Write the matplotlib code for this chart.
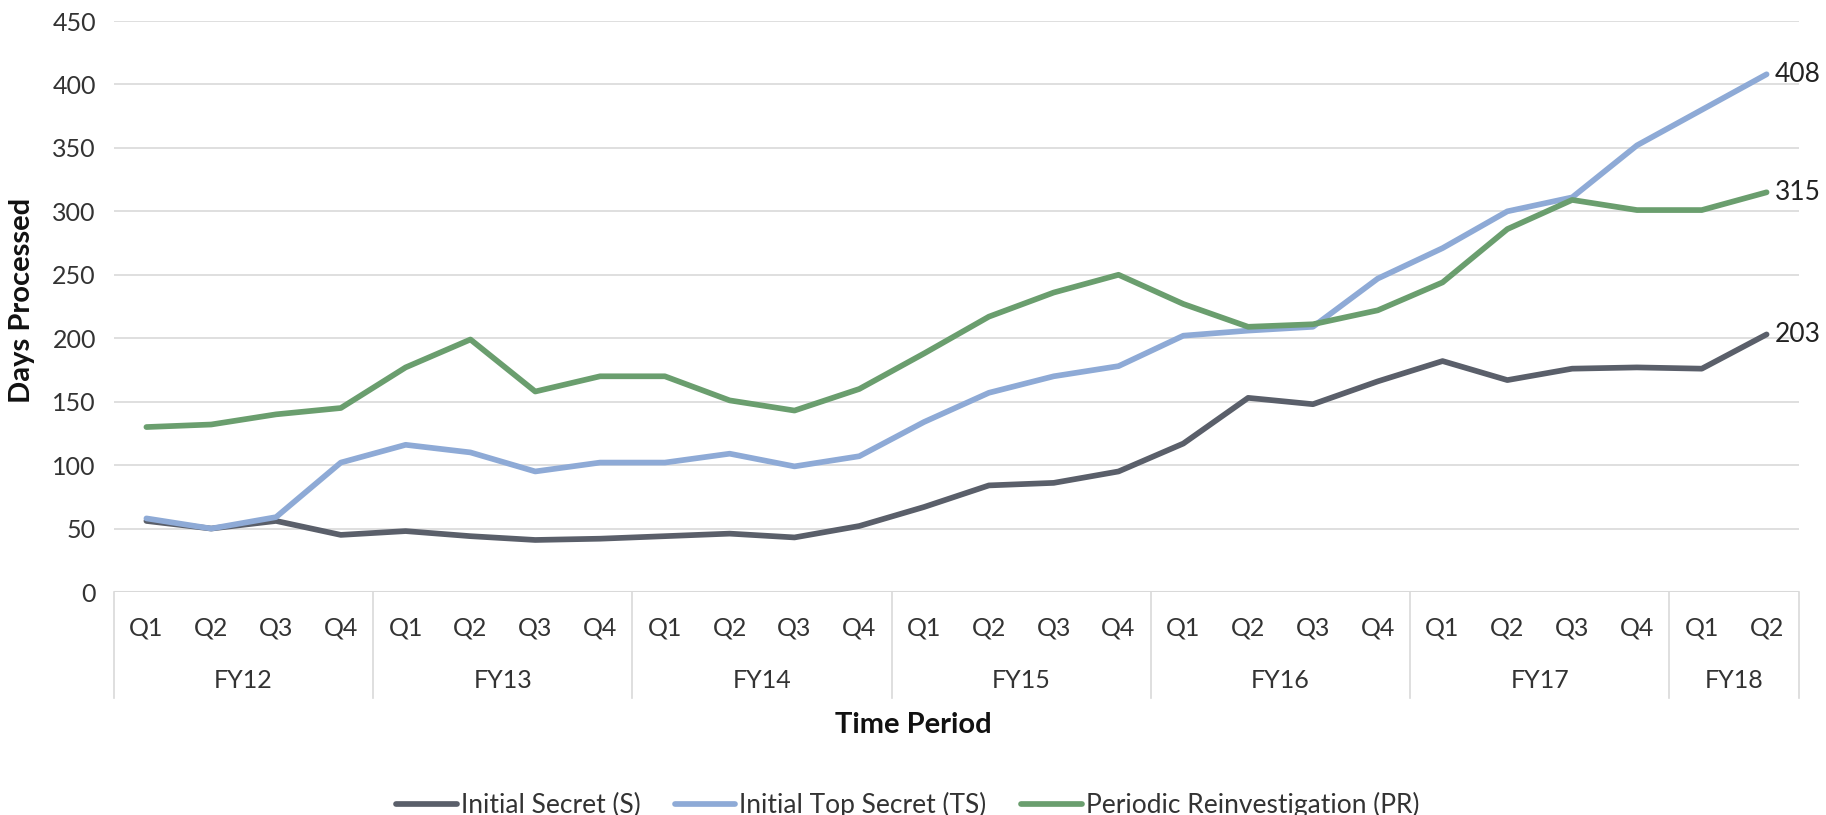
import matplotlib.pyplot as plt
import matplotlib.transforms as mtransforms

plt.rcParams['font.family'] = ['Lato', 'DejaVu Sans']

# data
years = ['FY12', 'FY13', 'FY14', 'FY15', 'FY16', 'FY17', 'FY18']
quarters_per_year = [4, 4, 4, 4, 4, 4, 2]
secret = [56, 50, 56, 45, 48, 44, 41, 42, 44, 46, 43, 52,
          67, 84, 86, 95, 117, 153, 148, 166, 182, 167, 176, 177, 176, 203]
top_secret = [58, 50, 59, 102, 116, 110, 95, 102, 102, 109, 99, 107,
              134, 157, 170, 178, 202, 206, 209, 247, 271, 300, 311, 352, 380, 408]
reinvest = [130, 132, 140, 145, 177, 199, 158, 170, 170, 151, 143, 160,
            188, 217, 236, 250, 227, 209, 211, 222, 244, 286, 309, 301, 301, 315]

quarter_labels = []
for n in quarters_per_year:
    quarter_labels += ['Q%d' % (k + 1) for k in range(n)]
x = list(range(len(quarter_labels)))

c_s = '#5a5f6a'
c_ts = '#8eaad6'
c_pr = '#6a9e6e'
grid_c = '#d9d9d9'
fs = 18
fs_title = 21

fig = plt.figure(figsize=(18.26, 8.15), dpi=100)
ax = fig.add_axes([114 / 1826, 1 - 592 / 815, (1799 - 114) / 1826, (592 - 21) / 815])

ax.plot(x, secret, color=c_s, lw=4.1, label='Initial Secret (S)', solid_capstyle='round')
ax.plot(x, top_secret, color=c_ts, lw=4.1, label='Initial Top Secret (TS)', solid_capstyle='round')
ax.plot(x, reinvest, color=c_pr, lw=4.1, label='Periodic Reinvestigation (PR)', solid_capstyle='round')

# end labels
for series in (secret, top_secret, reinvest):
    ax.annotate(str(series[-1]), (x[-1], series[-1]), xytext=(6, 0), textcoords='offset points',
                va='center', ha='left', fontsize=fs + 1, color='#222222', annotation_clip=False)

ax.set_xlim(-0.5, len(x) - 0.5)
ax.set_ylim(0, 450)
ax.set_yticks(range(0, 451, 50))
ax.tick_params(axis='y', length=0, pad=13, labelsize=fs, labelcolor='#333333')
ax.set_xticks([])
ax.grid(axis='y', color=grid_c, lw=1.2)
ax.set_axisbelow(True)
for s in ax.spines.values():
    s.set_visible(False)
ax.axhline(0, color=grid_c, lw=1.5, zorder=0.5)

# hierarchical category axis
trans = mtransforms.blended_transform_factory(ax.transData, fig.transFigure)
y_top = 1 - 592 / 815
y_bot = 1 - 698 / 815
y_q = 1 - 628 / 815
y_fy = 1 - 681 / 815
for i, q in enumerate(quarter_labels):
    fig.text(i, y_q, q, transform=trans, ha='center', va='center', fontsize=fs, color='#333333')
start = -0.5
bounds = [start]
for yr, n in zip(years, quarters_per_year):
    fig.text(start + n / 2, y_fy, yr, transform=trans, ha='center', va='center',
             fontsize=fs, color='#333333')
    start += n
    bounds.append(start)
for b in bounds:
    fig.add_artist(plt.Line2D([b, b], [y_top, y_bot], transform=trans, color=grid_c, lw=1.2))

fig.text(0.5, 1 - 725 / 815, 'Time Period', ha='center', va='center', fontsize=fs_title,
         fontweight='bold', color='#111111')
fig.text(22 / 1826, 1 - 300 / 815, 'Days Processed', ha='center', va='center', rotation=90,
         fontsize=fs_title, fontweight='bold', color='#111111')

fig.legend(loc='center', bbox_to_anchor=(0.497, 1 - 805 / 815), ncol=3, frameon=False,
           fontsize=fs + 1, handlelength=2.3, handletextpad=0.15, columnspacing=1.3,
           labelcolor='#333333')

fig.savefig('out.png', dpi=100)
